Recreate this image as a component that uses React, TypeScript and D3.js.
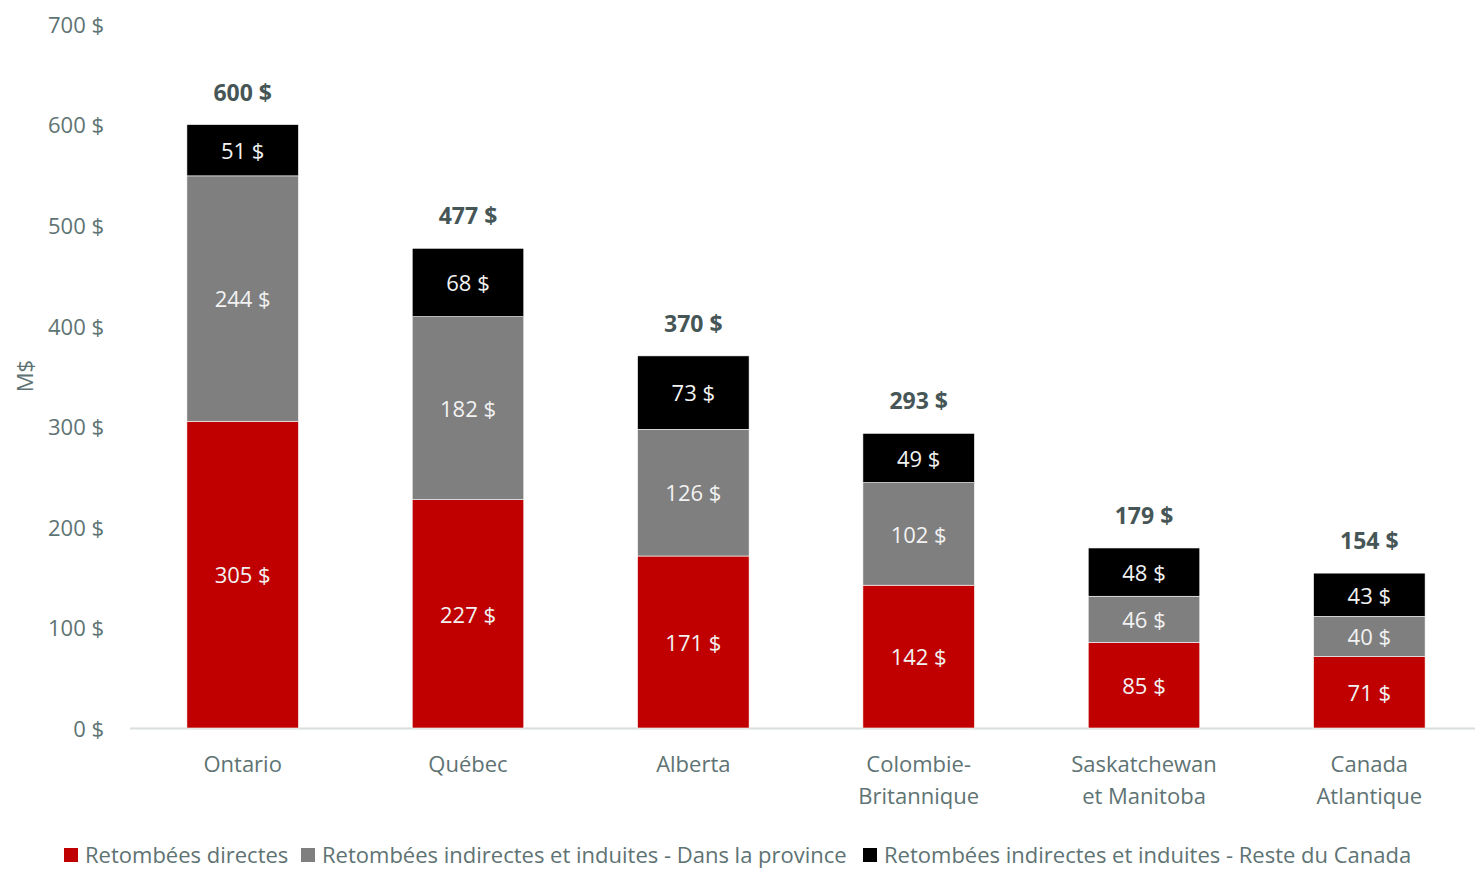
import { useEffect, useRef } from "react";
import * as d3 from "d3";

const categories = [["Ontario"], ["Québec"], ["Alberta"], ["Colombie-", "Britannique"], ["Saskatchewan", "et Manitoba"], ["Canada", "Atlantique"]];
const directes = [305, 227, 171, 142, 85, 71];
const dansProvince = [244, 182, 126, 102, 46, 40];
const resteCanada = [51, 68, 73, 49, 48, 43];
const totals = [600, 477, 370, 293, 179, 154];
const yTicks = [0, 100, 200, 300, 400, 500, 600, 700];
const seriesNames = [
  "Retombées directes",
  "Retombées indirectes et induites - Dans la province",
  "Retombées indirectes et induites - Reste du Canada",
];
const colors = ["#C00000", "#7F7F7F", "#000000"];

const W = 1475;
const H = 869;
const FONT = "'Open Sans', 'Noto Sans', sans-serif";
const TEXT = "#5E7373";

const App = () => {
  const svgRef = useRef<SVGSVGElement>(null);

  useEffect(() => {
    if (!svgRef.current) return;
    const svg = d3.select(svgRef.current);
    svg.selectAll("*").remove();

    const x = d3.scaleBand<number>()
      .domain(d3.range(categories.length))
      .range([130, 1482])
      .paddingInner(0.505)
      .paddingOuter(0.2525);
    const y = d3.scaleLinear().domain([0, 700]).range([728, 24]);

    const rows = categories.map((_, i) => ({ i, a: directes[i], b: dansProvince[i], c: resteCanada[i] }));
    const stack = d3.stack<any>().keys(["a", "b", "c"])(rows);

    // y tick labels
    svg.append("g").selectAll("text").data(yTicks).enter().append("text")
      .attr("x", 104).attr("y", (d) => y(d)).attr("dy", "0.4em")
      .attr("text-anchor", "end").attr("fill", TEXT)
      .style("font-family", FONT).style("font-size", "22px")
      .text((d) => `${d} $`);

    // axis title
    svg.append("text")
      .attr("transform", `translate(33,${y(350)}) rotate(-90)`)
      .attr("text-anchor", "middle").attr("fill", TEXT)
      .style("font-family", FONT).style("font-size", "22px")
      .text("M$");

    // baseline
    svg.append("line").attr("x1", 130).attr("x2", W).attr("y1", y(0) + 0.5).attr("y2", y(0) + 0.5)
      .attr("stroke", "#D9DEDE").attr("stroke-width", 2);

    stack.forEach((layer, k) => {
      const g = svg.append("g");
      g.selectAll("rect").data(layer).enter().append("rect")
        .attr("x", (d: any) => x(d.data.i)!)
        .attr("width", x.bandwidth())
        .attr("y", (d: any) => y(d[1]))
        .attr("height", (d: any) => y(d[0]) - y(d[1]))
        .attr("fill", colors[k])
        .attr("stroke", "#ffffff").attr("stroke-width", 0.6);
      g.selectAll("text").data(layer).enter().append("text")
        .attr("x", (d: any) => x(d.data.i)! + x.bandwidth() / 2)
        .attr("y", (d: any) => y((d[0] + d[1]) / 2))
        .attr("dy", "0.4em")
        .attr("text-anchor", "middle").attr("fill", "#F2F2F2")
        .style("font-family", FONT).style("font-size", "22px")
        .text((d: any) => `${d[1] - d[0]} $`);
    });

    // totals
    svg.append("g").selectAll("text").data(totals).enter().append("text")
      .attr("x", (_, i) => x(i)! + x.bandwidth() / 2)
      .attr("y", (d, i) => y(stack[2][i][1]) - 24)
      .attr("text-anchor", "middle").attr("fill", "#465656")
      .style("font-family", FONT).style("font-size", "23px").style("font-weight", 700)
      .text((d) => `${d} $`);

    // category labels
    const cat = svg.append("g").selectAll("text").data(categories).enter().append("text")
      .attr("text-anchor", "middle").attr("fill", TEXT)
      .style("font-family", FONT).style("font-size", "22px");
    cat.each(function (lines, i) {
      const t = d3.select(this);
      lines.forEach((l, j) => {
        t.append("tspan").attr("x", x(i)! + x.bandwidth() / 2).attr("y", 772 + j * 32).text(l);
      });
    });

    // legend (kept a few px up so descenders stay inside the frame)
    const legX = [64, 301, 863];
    const leg = svg.append("g");
    seriesNames.forEach((name, k) => {
      leg.append("rect").attr("x", legX[k]).attr("y", 848).attr("width", 14).attr("height", 14).attr("fill", colors[k]);
      leg.append("text").attr("x", legX[k] + 21).attr("y", 855).attr("dy", "0.38em")
        .attr("fill", TEXT).style("font-family", FONT).style("font-size", "22px")
        .text(name);
    });
  }, []);

  return (
    <svg
      ref={svgRef}
      width={W}
      height={H}
      style={{ display: "block", position: "absolute", left: 0, top: 0 }}
    />
  );
};

export default App;
